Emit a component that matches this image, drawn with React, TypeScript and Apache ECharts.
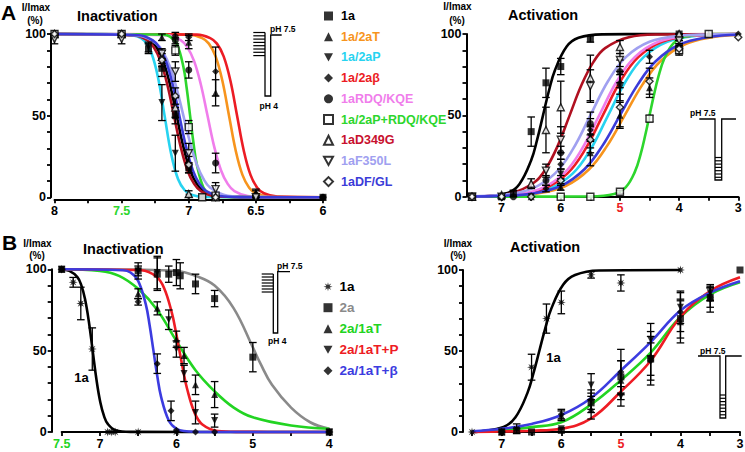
import React, { useEffect, useRef } from 'react';
import * as echarts from 'echarts';

type P3 = [number, number, number]; // [pH, I/Imax %, error]
type P2 = [number, number];

const FONT = "'Liberation Sans', Arial, Helvetica, sans-serif";

// ---------------- tick labels ----------------
const X_LABELS_A_IN = [8, 7.5, 7, 6.5, 6];
const X_LABELS_A_AC = [7, 6, 5, 4, 3];
const X_LABELS_B_IN = [7.5, 7, 6, 5, 4];
const X_LABELS_B_AC = [7, 6, 5, 4, 3];
const Y_LABELS = [0, 50, 100];

// ---------------- legend / series names ----------------
const A_NAMES = ['1a', '1a/2aT', '1a/2aP', '1a/2aβ', '1aRDQ/KQE', '1a/2aP+RDQ/KQE', '1aD349G', '1aF350L', '1aDF/GL'];
const A_TEXT_COLORS = ['#000000', '#F7941D', '#27D3F0', '#EC1C24', '#F07DEB', '#2DD62D', '#C8102E', '#A0A0F0', '#3B3BD8'];
const A_LINE_COLORS = ['#000000', '#F7941D', '#27D3F0', '#EC1C24', '#F07DEB', '#2DD62D', '#B01020', '#A0A0F0', '#3B3BD8'];
const B_NAMES = ['1a', '2a', '2a/1aT', '2a/1aT+P', '2a/1aT+β'];
const B_TEXT_COLORS = ['#000000', '#8A8A8A', '#22D422', '#EE1C24', '#3C3CE0'];
const B_LINE_COLORS = ['#000000', '#8A8A8A', '#22D422', '#EE1C24', '#3C3CE0'];

const SYM_SQUARE = 'rect';
const SYM_TRI = 'triangle';
const SYM_DTRI = 'path://M0,0L10,0L5,9Z';
const SYM_DIAMOND = 'path://M5,0L10,5L5,10L0,5Z';
const SYM_CIRCLE = 'circle';
const SYM_STAR = 'path://M10,5L6.85,5.77L8.54,8.54L5.77,6.85L5,10L4.23,6.85L1.46,8.54L3.15,5.77L0,5L3.15,4.23L1.46,1.46L4.23,3.15L5,0L5.77,3.15L8.54,1.46L6.85,4.23Z';
const A_SYMBOLS = [SYM_SQUARE, SYM_TRI, SYM_DTRI, SYM_DIAMOND, SYM_CIRCLE, SYM_SQUARE, SYM_TRI, SYM_DTRI, SYM_DIAMOND];
const A_OPEN = [false, false, false, false, false, true, true, true, true];
const B_SYMBOLS = [SYM_STAR, SYM_SQUARE, SYM_TRI, SYM_DTRI, SYM_DIAMOND];

// ---------------- A: inactivation data ----------------
const A_IN_1A: P3[] = [[8, 100, 0], [7.5, 100, 0], [7.3, 91, 3], [7.2, 79, 5], [7.1, 50, 5], [7.0, 18, 3], [6.9, 0, 0], [6.8, 0, 0], [6.5, 0, 0], [6, 0, 0]];
const A_IN_2AT: P3[] = [[8, 100, 0], [7.5, 100, 0], [7.2, 98, 2], [7.0, 95, 4], [6.8, 64, 8], [6.5, 3, 2], [6, 0, 0]];
const A_IN_2AP: P3[] = [[8, 100, 0], [7.5, 100, 0], [7.3, 92, 3], [7.2, 58, 11], [7.1, 27, 11], [7.0, 0, 0], [6.8, 0, 0]];
const A_IN_2AB: P3[] = [[8, 100, 0], [7.5, 100, 0], [7.1, 99, 2], [7.0, 98, 2], [6.8, 77, 15], [6.5, 2, 2], [6, 0, 0]];
const A_IN_RDQ: P3[] = [[8, 100, 0], [7.5, 100, 0], [7.1, 96, 2], [7.0, 78, 5], [6.8, 21, 6], [6.5, 0, 0], [6, 0, 0]];
const A_IN_2APRDQ: P3[] = [[8, 100, 0], [7.5, 100, 0], [7.1, 90, 3], [7.0, 43, 4], [6.9, 0, 0], [6.8, 1, 0]];
const A_IN_D349G: P3[] = [[8, 100, 0], [7.5, 100, 0], [7.2, 86, 4], [7.1, 55, 6], [7.0, 2, 2], [6.8, 0, 0]];
const A_IN_F350L: P3[] = [[8, 97, 3], [7.5, 97, 3], [7.2, 88, 3], [7.1, 77, 6], [7.0, 27, 6], [6.8, 5, 4], [6.5, 0, 0]];
const A_IN_DFGL: P3[] = [[8, 100, 0], [7.5, 100, 0], [7.2, 84, 4], [7.1, 62, 5], [7.0, 20, 5], [6.8, 0, 0]];

const FIT_A_IN_1A: P2[] = [[8, 100], [7.39, 99.2], [7.29, 96.2], [7.24, 91.8], [7.19, 83.4], [7.14, 69.1], [7.09, 50], [7.04, 30.9], [6.99, 16.6], [6.94, 8.2], [6.89, 3.8], [6.79, 0.8], [6.6, 0.1], [6, 0]];
const FIT_A_IN_2AT: P2[] = [[8, 100], [7.0, 99.6], [6.9, 97.5], [6.85, 94.1], [6.8, 86.3], [6.75, 71.5], [6.7, 50], [6.65, 28.5], [6.6, 13.7], [6.55, 5.9], [6.5, 2.5], [6.4, 0.4], [6, 0]];
const FIT_A_IN_2AP: P2[] = [[8, 100], [7.48, 99.8], [7.38, 98.4], [7.33, 95.7], [7.28, 88.8], [7.23, 73.8], [7.18, 50], [7.13, 26.2], [7.08, 11.2], [7.03, 4.3], [6.98, 1.6], [6.88, 0.2], [6, 0]];
const FIT_A_IN_2AB: P2[] = [[8, 100], [6.94, 99.6], [6.84, 97.5], [6.79, 94.1], [6.74, 86.3], [6.69, 71.5], [6.64, 50], [6.59, 28.5], [6.54, 13.7], [6.49, 5.9], [6.44, 2.5], [6.34, 0.4], [6, 0]];
const FIT_A_IN_RDQ: P2[] = [[8, 100], [7.16, 99.2], [7.06, 96.2], [7.01, 91.8], [6.96, 83.4], [6.91, 69.1], [6.86, 50], [6.81, 30.9], [6.76, 16.6], [6.71, 8.2], [6.66, 3.8], [6.56, 0.8], [6.4, 0.1], [6, 0]];
const FIT_A_IN_2APRDQ: P2[] = [[8, 100], [7.19, 99.6], [7.14, 98.4], [7.09, 94.1], [7.04, 79.9], [7.015, 66.6], [6.99, 50], [6.965, 33.4], [6.94, 20.1], [6.89, 5.9], [6.84, 1.6], [6.79, 0.4], [6, 0]];
const FIT_A_IN_D349G: P2[] = [[8, 100], [7.41, 99.2], [7.31, 96.2], [7.26, 91.8], [7.21, 83.4], [7.16, 69.1], [7.11, 50], [7.06, 30.9], [7.01, 16.6], [6.96, 8.2], [6.91, 3.8], [6.81, 0.8], [6.6, 0.1], [6, 0]];
const FIT_A_IN_F350L: P2[] = [[8, 100], [7.49, 99.8], [7.34, 98.4], [7.24, 94.1], [7.19, 88.8], [7.14, 79.9], [7.09, 66.6], [7.04, 50], [6.99, 33.4], [6.94, 20.1], [6.89, 11.2], [6.84, 5.9], [6.74, 1.6], [6.6, 0.2], [6, 0]];
const FIT_A_IN_DFGL: P2[] = [[8, 100], [7.37, 99.2], [7.27, 96.2], [7.22, 91.8], [7.17, 83.4], [7.12, 69.1], [7.07, 50], [7.02, 30.9], [6.97, 16.6], [6.92, 8.2], [6.87, 3.8], [6.77, 0.8], [6.6, 0.1], [6, 0]];

// ---------------- A: activation data ----------------
const A_AC_1A: P3[] = [[7.5, 0, 0], [7, 0, 0], [6.8, 2, 2], [6.5, 40, 9], [6.25, 70, 9], [6, 80, 5], [5.5, 97, 2], [4, 100, 0]];
const A_AC_2AT: P3[] = [[7.5, 0, 0], [7, 0, 0], [6.5, 0, 0], [6, 6, 2], [5.5, 27, 8], [5, 50, 8], [4.5, 67, 6], [4, 93, 3], [3.5, 100, 0]];
const A_AC_2AP: P3[] = [[7.5, 0, 0], [7, 0, 0], [6.5, 0, 0], [6, 14, 3], [5.5, 37, 7], [5, 67, 8], [4, 98, 2]];
const A_AC_2AB: P3[] = [[7.5, 0, 0], [7, 0, 0], [6.25, 5, 2], [6, 20, 3], [5.5, 41, 7], [5, 70, 7], [4.5, 86, 4], [4, 100, 0], [3, 100, 0]];
const A_AC_RDQ: P3[] = [[7.5, 0, 0], [6.8, 0, 0], [6.25, 10, 3], [6, 27, 4], [5.5, 45, 7], [5, 77, 7], [4, 98, 2]];
const A_AC_2APRDQ: P3[] = [[7.5, 0, 0], [6, 0, 0], [5.5, 0, 0], [5, 3, 1], [4.5, 48, 2], [4, 90, 3], [3.5, 100, 0]];
const A_AC_D349G: P3[] = [[7.5, 0, 0], [7, 1, 0], [6.5, 8, 3], [6.25, 41, 14], [6, 55, 16], [5.5, 73, 14], [5, 92, 4], [4, 100, 0]];
const A_AC_F350L: P3[] = [[7.5, 0, 0], [7, 0, 0], [6.25, 16, 4], [6, 35, 8], [5.5, 68, 10], [5, 84, 4], [4, 96, 2]];
const A_AC_DFGL: P3[] = [[7.5, 0, 0], [7, 0, 0], [6.5, 0, 0], [6, 10, 3], [5.5, 35, 8], [5, 55, 12], [4.5, 71, 8], [4, 91, 3], [3, 98, 0]];

const FIT_A_AC_1A: P2[] = [[7.5, 0], [7.3, 0.2], [6.9, 2.3], [6.7, 7.7], [6.5, 22.4], [6.4, 34.9], [6.3, 50], [6.2, 65.1], [6.1, 77.6], [5.9, 92.3], [5.7, 97.7], [5.3, 99.8], [4, 100]];
const FIT_A_AC_2AT: P2[] = [[7.5, 0.1], [6.92, 0.5], [6.42, 1.9], [5.92, 6.6], [5.52, 16.9], [5.22, 31.1], [4.92, 50], [4.62, 68.9], [4.32, 83.1], [3.92, 93.4], [3.42, 98.1], [3, 99.4]];
const FIT_A_AC_2AP: P2[] = [[7.5, 0.1], [6.7, 1.1], [6.2, 4.8], [5.8, 14.2], [5.5, 28.9], [5.2, 50], [4.9, 71.1], [4.6, 85.8], [4.2, 95.2], [3.7, 98.9], [3.2, 99.7], [3, 99.8]];
const FIT_A_AC_2AB: P2[] = [[7.5, 0.1], [6.79, 1.1], [6.29, 4.8], [5.89, 14.2], [5.59, 28.9], [5.29, 50], [4.99, 71.1], [4.69, 85.8], [4.29, 95.2], [3.79, 98.9], [3.29, 99.7], [3, 99.9]];
const FIT_A_AC_RDQ: P2[] = [[7.5, 0.2], [6.85, 1.1], [6.35, 4.8], [5.95, 14.2], [5.65, 28.9], [5.35, 50], [5.05, 71.1], [4.75, 85.8], [4.35, 95.2], [3.85, 98.9], [3.35, 99.7], [3, 99.9]];
const FIT_A_AC_2APRDQ: P2[] = [[7.5, 0], [5.5, 0.1], [5.1, 1.6], [4.9, 5.9], [4.75, 15.1], [4.65, 26.2], [4.57, 38.2], [4.5, 50], [4.43, 61.8], [4.35, 73.8], [4.25, 84.9], [4.1, 94.1], [3.9, 98.4], [3.5, 99.9], [3, 100]];
const FIT_A_AC_D349G: P2[] = [[7.5, 0.2], [7.35, 0.3], [6.85, 2], [6.45, 8.7], [6.25, 17.3], [6.05, 31.4], [5.85, 50], [5.65, 68.6], [5.45, 82.7], [5.25, 91.3], [4.85, 98], [4.35, 99.7], [3, 100]];
const FIT_A_AC_F350L: P2[] = [[7.5, 0.3], [7.0, 1.1], [6.5, 4.8], [6.1, 14.2], [5.8, 28.9], [5.5, 50], [5.2, 71.1], [4.9, 85.8], [4.5, 95.2], [4.0, 98.9], [3.5, 99.7], [3, 99.9]];
const FIT_A_AC_DFGL: P2[] = [[7.5, 0.1], [7, 0.5], [6.5, 1.9], [6, 6.6], [5.6, 16.9], [5.3, 31.1], [5, 50], [4.7, 68.9], [4.4, 83.1], [4, 93.4], [3.5, 98.1], [3, 99.5]];

// ---------------- B: inactivation data ----------------
const B_IN_1A: P3[] = [[7.5, 100, 0], [7.35, 92, 3], [7.25, 79, 10], [7.1, 51, 13], [6.9, 0, 0], [6.85, 0, 0], [6.8, 0, 0], [6.5, 0, 0], [6, 0, 0], [4, 0, 0]];
const B_IN_2A: P3[] = [[7.5, 100, 0], [6.5, 99, 5], [6.25, 97, 10], [6.1, 97, 5], [6, 98, 8], [5.95, 96, 8], [5.75, 91, 6], [5.5, 82, 5], [5, 46, 9], [4, 0, 0]];
const B_IN_2A1AT: P3[] = [[7.5, 100, 0], [6.5, 85, 3], [6.25, 76, 4], [6.0, 57, 5], [5.9, 47, 5], [5.75, 29, 6], [5.5, 23, 8], [4, 0, 0]];
const B_IN_2A1ATP: P3[] = [[7.5, 100, 0], [6.5, 99, 3], [6.25, 98, 10], [6.1, 69, 6], [6.0, 51, 5], [5.9, 36, 5], [5.75, 12, 7], [5.5, 7, 4], [4, 0, 0]];
const B_IN_2A1ATB: P3[] = [[7.5, 100, 0], [6.5, 80, 2], [6.25, 42, 6], [6.07, 13, 6], [6, 1, 0], [5.75, 0, 0], [5.5, 0, 0], [4, 0, 0]];

const FIT_B_IN_1A: P2[] = [[7.5, 99.8], [7.4, 99], [7.295, 95.2], [7.245, 90.4], [7.195, 81.7], [7.145, 67.9], [7.095, 50], [7.045, 32.1], [6.995, 18.3], [6.945, 9.6], [6.895, 4.8], [6.795, 1.1], [6.6, 0.1], [4, 0]];
const FIT_B_IN_2A: P2[] = [[7.5, 100], [6.5, 99.8], [6, 99], [5.75, 96], [5.5, 90], [5.25, 76], [5, 52], [4.9, 42], [4.75, 29], [4.5, 15], [4.25, 6], [4, 2]];
const FIT_B_IN_2A1AT: P2[] = [[7.5, 100], [7, 99], [6.75, 96], [6.5, 88], [6.25, 75], [6, 56], [5.75, 38], [5.5, 25], [5.25, 15], [5, 9], [4.5, 4], [4, 2]];
const FIT_B_IN_2A1ATP: P2[] = [[7.5, 100], [6.46, 99.4], [6.26, 95.4], [6.16, 88.4], [6.06, 73.4], [6.01, 62.4], [5.96, 50], [5.91, 37.6], [5.86, 26.6], [5.76, 11.6], [5.66, 4.6], [5.46, 0.6], [5.2, 0.1], [4, 0]];
const FIT_B_IN_2A1ATB: P2[] = [[7.5, 100], [6.7, 99.4], [6.6, 98], [6.5, 92.9], [6.4, 78.4], [6.35, 65.6], [6.3, 50], [6.25, 34.4], [6.2, 21.6], [6.1, 7.1], [6.0, 2], [5.9, 0.6], [5.6, 0], [4, 0]];

// ---------------- B: activation data ----------------
const B_AC_1A: P3[] = [[7.5, 0, 0], [7, 0, 0], [6.75, 2, 3], [6.5, 40, 8], [6.25, 70, 9], [6, 80, 7], [5.5, 97, 2], [5, 92, 5], [4, 100, 0]];
const B_AC_2A: P3[] = [[7, 0, 0], [6.75, 1, 0], [6.5, 0, 0], [6, 1, 0], [5.5, 18, 6], [5, 34, 10], [4.5, 45, 10], [4, 70, 12], [3.5, 83, 6], [3, 100, 0]];
const B_AC_2A1AT: P3[] = [[7, 0, 0], [6, 10, 3], [5.5, 14, 6], [5, 32, 12], [4.5, 47, 15], [4, 68, 13], [3.5, 85, 4]];
const B_AC_2A1ATP: P3[] = [[7, 0, 0], [6, 2, 0], [5.5, 29, 7], [5, 22, 6], [4.5, 57, 10], [4, 77, 10], [3.5, 86, 5]];
const B_AC_2A1ATB: P3[] = [[7, 0, 0], [6, 11, 3], [5.5, 20, 6], [5, 37, 14], [4.5, 44, 15], [4, 74, 12], [3.5, 82, 8]];

const FIT_B_AC_1A: P2[] = [[7.5, 0], [7.37, 0.3], [6.97, 3.1], [6.77, 9.1], [6.57, 24], [6.47, 36], [6.37, 50], [6.27, 64], [6.17, 76], [5.97, 90.9], [5.77, 96.9], [5.37, 99.7], [4, 100]];
const FIT_B_AC_2A1AT: P2[] = [[7.5, 0.3], [7, 1], [6.5, 3], [6, 6], [5.5, 17], [5, 32], [4.5, 49], [4, 71], [3.5, 85], [3, 92.5]];
const FIT_B_AC_2A1ATP: P2[] = [[7.5, 0], [7, 0.3], [6.5, 0.8], [6, 2], [5.5, 8.4], [5, 25], [4.5, 44], [4, 71], [3.5, 87], [3, 95.5]];
const FIT_B_AC_2A1ATB: P2[] = [[7.5, 0.5], [7, 2], [6.5, 5], [6, 10.5], [5.5, 21], [5, 38], [4.5, 55.5], [4, 75], [3.5, 86], [3, 93]];

// ---------------- assembly ----------------
const A_IN_PTS = [A_IN_1A, A_IN_2AT, A_IN_2AP, A_IN_2AB, A_IN_RDQ, A_IN_2APRDQ, A_IN_D349G, A_IN_F350L, A_IN_DFGL];
const A_IN_FITS = [FIT_A_IN_1A, FIT_A_IN_2AT, FIT_A_IN_2AP, FIT_A_IN_2AB, FIT_A_IN_RDQ, FIT_A_IN_2APRDQ, FIT_A_IN_D349G, FIT_A_IN_F350L, FIT_A_IN_DFGL];
const A_AC_PTS = [A_AC_1A, A_AC_2AT, A_AC_2AP, A_AC_2AB, A_AC_RDQ, A_AC_2APRDQ, A_AC_D349G, A_AC_F350L, A_AC_DFGL];
const A_AC_FITS = [FIT_A_AC_1A, FIT_A_AC_2AT, FIT_A_AC_2AP, FIT_A_AC_2AB, FIT_A_AC_RDQ, FIT_A_AC_2APRDQ, FIT_A_AC_D349G, FIT_A_AC_F350L, FIT_A_AC_DFGL];
const B_IN_PTS = [B_IN_1A, B_IN_2A, B_IN_2A1AT, B_IN_2A1ATP, B_IN_2A1ATB];
const B_IN_FITS = [FIT_B_IN_1A, FIT_B_IN_2A, FIT_B_IN_2A1AT, FIT_B_IN_2A1ATP, FIT_B_IN_2A1ATB];
const B_AC_PTS = [B_AC_1A, B_AC_2A, B_AC_2A1AT, B_AC_2A1ATP, B_AC_2A1ATB];
const B_AC_FITS: (P2[] | null)[] = [FIT_B_AC_1A, null, FIT_B_AC_2A1AT, FIT_B_AC_2A1ATP, FIT_B_AC_2A1ATB];

const GREEN_LABEL = '#2DD62D';
const RED_LABEL = '#EC1C24';

type Panel = {
  id: string; grid: any; xMin: number; xMax: number; xInt: number; xLabels: number[];
  labelColor: Record<string, string>; xOff: number; yOff: number;
  names: string[]; lineColors: string[]; symbols: string[]; open: boolean[];
  pts: P3[][]; fits: (P2[] | null)[];
};

const PANELS: Panel[] = [
  { id: 'A1', grid: { left: 54.5, top: 34, width: 268.5, height: 163.3 }, xMin: 6, xMax: 8, xInt: 0.25, xLabels: X_LABELS_A_IN, labelColor: { '7.5': GREEN_LABEL }, xOff: 2, yOff: 3.5, names: A_NAMES, lineColors: A_LINE_COLORS, symbols: A_SYMBOLS, open: A_OPEN, pts: A_IN_PTS, fits: A_IN_FITS },
  { id: 'A2', grid: { left: 472, top: 34, width: 266.3, height: 162.7 }, xMin: 3, xMax: 7.5, xInt: 0.5, xLabels: X_LABELS_A_AC, labelColor: { '5': RED_LABEL }, xOff: 0, yOff: 5.5, names: A_NAMES, lineColors: A_LINE_COLORS, symbols: A_SYMBOLS, open: A_OPEN, pts: A_AC_PTS, fits: A_AC_FITS },
  { id: 'B1', grid: { left: 61.7, top: 269.3, width: 267.6, height: 162.7 }, xMin: 4, xMax: 7.5, xInt: 0.5, xLabels: X_LABELS_B_IN, labelColor: { '7.5': '#22D422' }, xOff: 0, yOff: 10, names: B_NAMES, lineColors: B_LINE_COLORS, symbols: B_SYMBOLS, open: [false, false, false, false, false], pts: B_IN_PTS, fits: B_IN_FITS },
  { id: 'B2', grid: { left: 472, top: 270, width: 268, height: 162 }, xMin: 3, xMax: 7.5, xInt: 0.5, xLabels: X_LABELS_B_AC, labelColor: { '5': RED_LABEL }, xOff: 0, yOff: 9, names: B_NAMES, lineColors: B_LINE_COLORS, symbols: B_SYMBOLS, open: [false, false, false, false, false], pts: B_AC_PTS, fits: B_AC_FITS },
];

const has = (arr: number[], v: number) => arr.some((a) => Math.abs(a - v) < 1e-6);

const errRender = (_params: any, api: any) => {
  const x = api.value(0), y = api.value(1), e = api.value(2);
  const t = api.coord([x, y + e]);
  const b = api.coord([x, y - e]);
  const w = 3.8;
  const st = { stroke: '#000', lineWidth: 1.3 };
  return {
    type: 'group',
    children: [
      { type: 'line', shape: { x1: t[0], y1: t[1], x2: b[0], y2: b[1] }, style: st },
      { type: 'line', shape: { x1: t[0] - w, y1: t[1], x2: t[0] + w, y2: t[1] }, style: st },
      { type: 'line', shape: { x1: b[0] - w, y1: b[1], x2: b[0] + w, y2: b[1] }, style: st },
    ],
  };
};

const txt = (text: string, x: number, y: number, size: number, fill = '#000', align = 'left') => ({
  type: 'text', x, y, silent: true, z: 20,
  style: { text, fontSize: size, fontWeight: 'bold', fontFamily: FONT, fill, align, verticalAlign: 'middle' },
});
const poly = (points: number[][]) => ({ type: 'polyline', silent: true, z: 20, shape: { points }, style: { stroke: '#000', lineWidth: 1.3, fill: null } });
const seg = (x1: number, y1: number, x2: number, y2: number) => ({ type: 'line', silent: true, z: 20, shape: { x1, y1, x2, y2 }, style: { stroke: '#000', lineWidth: 1.2 } });

function insetElements() {
  const els: any[] = [];
  // A inactivation protocol
  for (let i = 0; i < 8; i++) els.push(seg(253.3, 32.5 + 3.3 * i, 265, 32.5 + 3.3 * i));
  els.push(poly([[265, 32.5], [265, 96], [270.7, 96], [270.7, 35], [281.7, 35]]));
  els.push(txt('pH 7.5', 270, 28.5, 8.5));
  els.push(txt('pH 4', 259.5, 105.5, 8.5));
  // A activation protocol
  els.push(poly([[699.3, 119], [715, 119], [715, 180], [721.7, 180], [721.7, 119], [736, 119]]));
  for (let i = 0; i < 7; i++) els.push(seg(715, 157.5 + 3.3 * i, 721.7, 157.5 + 3.3 * i));
  els.push(txt('pH 7.5', 690, 113, 8.5));
  // B inactivation protocol
  for (let i = 0; i < 7; i++) els.push(seg(261.7, 274 + 3 * i, 273.3, 274 + 3 * i));
  els.push(poly([[273.3, 274], [273.3, 333], [277.7, 333], [277.7, 271.7], [290, 271.7]]));
  els.push(txt('pH 7.5', 277, 265.5, 8.5));
  els.push(txt('pH 4', 268, 340.5, 8.5));
  // B activation protocol
  els.push(poly([[698, 356], [720, 356], [720, 418], [725.7, 418], [725.7, 356], [741.7, 356]]));
  for (let i = 0; i < 7; i++) els.push(seg(720, 395 + 3.3 * i, 725.7, 395 + 3.3 * i));
  els.push(txt('pH 7.5', 700, 350.5, 8.5));
  return els;
}

function buildOption() {
  const grid: any[] = [];
  const xAxis: any[] = [];
  const yAxis: any[] = [];
  const series: any[] = [];

  PANELS.forEach((p, gi) => {
    grid.push({ ...p.grid, containLabel: false, outerBoundsMode: 'none' });
    xAxis.push({
      gridIndex: gi, type: 'value', min: p.xMin, max: p.xMax, interval: p.xInt, inverse: true, offset: p.xOff,
      axisLine: { show: true, onZero: false, lineStyle: { color: '#000', width: 2 } },
      axisTick: { show: true, inside: false, length: 4, lineStyle: { color: '#000', width: 1.8 } },
      splitLine: { show: false },
      axisLabel: {
        show: true, margin: 5, fontFamily: FONT, fontWeight: 'bold', fontSize: 12.5, showMinLabel: true, showMaxLabel: true, hideOverlap: false,
        formatter: (v: number) => (has(p.xLabels, v) ? String(v) : ''),
        color: (v: any) => p.labelColor[String(Number(v))] || '#000',
      },
    });
    yAxis.push({
      gridIndex: gi, type: 'value', min: 0, max: 100, interval: 10, offset: p.yOff,
      axisLine: { show: true, onZero: false, lineStyle: { color: '#000', width: 2 } },
      axisTick: { show: true, inside: false, length: 4, lineStyle: { color: '#000', width: 1.8 } },
      splitLine: { show: false },
      axisLabel: {
        show: true, margin: 5, fontFamily: FONT, fontWeight: 'bold', fontSize: 12.5, color: '#000', showMinLabel: true, showMaxLabel: true,
        formatter: (v: number) => (has(Y_LABELS, v) ? String(v) : ''),
      },
    });

    p.fits.forEach((fit, i) => {
      if (!fit) return;
      series.push({
        type: 'line', name: `${p.id}|${p.names[i]} fit`, xAxisIndex: gi, yAxisIndex: gi, data: fit,
        showSymbol: false, symbol: 'none', smooth: 0.4, silent: true, z: 2,
        lineStyle: { color: p.lineColors[i], width: 2.6 }, itemStyle: { color: p.lineColors[i] }, clip: false,
      });
    });

    const errData: P3[] = [];
    p.pts.forEach((pts) => pts.forEach((d) => { if (d[2] > 0) errData.push(d); }));
    series.push({
      type: 'custom', name: `${p.id} err`, xAxisIndex: gi, yAxisIndex: gi, coordinateSystem: 'cartesian2d',
      data: errData, encode: { x: 0, y: 1 }, renderItem: errRender, silent: true, z: 3, clip: false,
    });

    p.pts.forEach((pts, i) => {
      const open = p.open[i];
      series.push({
        type: 'scatter', name: `${p.id}|${p.names[i]}`, xAxisIndex: gi, yAxisIndex: gi,
        data: pts.map((d) => [d[0], d[1]]), symbol: p.symbols[i], symbolSize: p.symbols[i] === SYM_STAR ? 9 : 7,
        itemStyle: open ? { color: '#fff', borderColor: '#000', borderWidth: 1.4 } : { color: '#000', borderColor: '#000', borderWidth: 0 },
        z: 4, silent: true, clip: false,
      });
    });
  });

  const legendCommon = {
    orient: 'vertical', itemWidth: 9, itemHeight: 9, selectedMode: false, padding: 0,
    formatter: (n: string) => n.split('|')[1],
  };

  const legend = [
    {
      ...legendCommon, left: 323, top: 9, itemGap: 6.7,
      textStyle: { fontFamily: FONT, fontWeight: 'bold', fontSize: 12.5, lineHeight: 14, padding: [0, 0, 0, 3] },
      data: A_NAMES.map((n, i) => ({ name: `A2|${n}`, textStyle: { color: A_TEXT_COLORS[i] } })),
    },
    {
      ...legendCommon, left: 323.5, top: 279.7, itemGap: 7,
      textStyle: { fontFamily: FONT, fontWeight: 'bold', fontSize: 13.5, lineHeight: 14, padding: [0, 0, 0, 2] },
      data: B_NAMES.map((n, i) => ({ name: `B2|${n}`, textStyle: { color: B_TEXT_COLORS[i] } })),
    },
  ];

  const graphic = [
    txt('A', 1, 12, 21),
    txt('B', 2, 242, 21),
    txt('Inactivation', 77, 16, 14.5),
    txt('Activation', 508, 15, 14.5),
    txt('Inactivation', 83, 248.5, 14.5),
    txt('Activation', 510, 247, 14.5),
    txt('I/Imax', 36, 7, 10, '#000', 'center'),
    txt('(%)', 35, 20, 10, '#000', 'center'),
    txt('I/Imax', 457.5, 6.5, 10, '#000', 'center'),
    txt('(%)', 457, 20, 10, '#000', 'center'),
    txt('I/Imax', 37.5, 243.5, 10, '#000', 'center'),
    txt('(%)', 37, 255.5, 10, '#000', 'center'),
    txt('I/Imax', 458, 243, 10, '#000', 'center'),
    txt('(%)', 458, 255.5, 10, '#000', 'center'),
    txt('1a', 81.5, 377, 13, '#000', 'center'),
    txt('1a', 553.5, 357, 13, '#000', 'center'),
    ...insetElements(),
  ];

  return {
    animation: false,
    backgroundColor: '#fff',
    grid, xAxis, yAxis, series, legend, graphic,
  };
}

export default function App() {
  const ref = useRef<HTMLDivElement>(null);
  useEffect(() => {
    if (!ref.current) return;
    const chart = echarts.init(ref.current, undefined, { renderer: 'svg', width: 745, height: 452 });
    chart.setOption(buildOption() as any);
    return () => chart.dispose();
  }, []);
  return <div ref={ref} style={{ position: 'fixed', left: 0, top: 0, width: 745, height: 452, background: '#fff' }} />;
}
